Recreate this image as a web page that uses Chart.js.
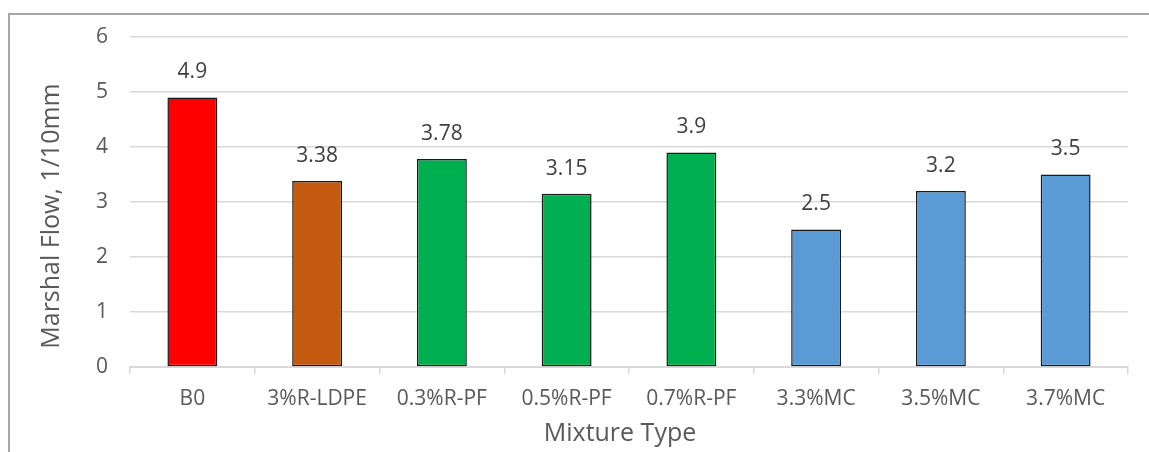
<!DOCTYPE html>
<html>
<head>
<meta charset="utf-8">
<script src="https://cdn.jsdelivr.net/npm/chart.js@4/dist/chart.umd.min.js"></script>
<style>
  html, body { margin: 0; padding: 0; background: #ffffff; overflow: hidden; }
  #wrap { position: relative; width: 1149px; height: 452px; }
  #frame {
    position: absolute; left: 8px; top: 13px; width: 1300px; height: 600px;
    border-left: 2px solid #a6a6a6; border-top: 2px solid #a6a6a6;
    pointer-events: none;
  }
  canvas { position: absolute; left: 0; top: 0; }
</style>
</head>
<body>
<div id="wrap">
  <canvas id="chart" width="1149" height="452"></canvas>
  <div id="frame"></div>
</div>
<script>
// Mixture types along the x axis
const categories = ['B0', '3%R-LDPE', '0.3%R-PF', '0.5%R-PF', '0.7%R-PF', '3.3%MC', '3.5%MC', '3.7%MC'];
// Marshall flow for each mixture (1/10 mm)
const flowValues = [4.9, 3.38, 3.78, 3.15, 3.9, 2.5, 3.2, 3.5];
// Y axis tick values
const yTicks = [0, 1, 2, 3, 4, 5, 6];
// Axis titles
const xTitle = 'Mixture Type';
const yTitle = 'Marshal Flow, 1/10mm';

// Fill colour per mixture group
const barColors = ['#FF0000', '#C55A11', '#00B050', '#00B050', '#00B050', '#5B9BD5', '#5B9BD5', '#5B9BD5'];

const FONT = "'Open Sans', 'Liberation Sans', sans-serif";

// Writes each bar's value above it
const valueLabels = {
  id: 'valueLabels',
  afterDatasetsDraw(chart) {
    const ctx = chart.ctx;
    const meta = chart.getDatasetMeta(0);
    ctx.save();
    ctx.font = '21px ' + FONT;
    ctx.fillStyle = '#404040';
    ctx.textAlign = 'center';
    ctx.textBaseline = 'middle';
    meta.data.forEach((bar, i) => {
      ctx.fillText(String(flowValues[i]), bar.x, bar.y - 25);
    });
    ctx.restore();
  }
};

// Axis titles, centred on the whole chart box rather than the plot area
const axisTitles = {
  id: 'axisTitles',
  afterDraw(chart) {
    const ctx = chart.ctx;
    ctx.save();
    ctx.font = '25px ' + FONT;
    ctx.fillStyle = '#595959';
    ctx.textAlign = 'center';
    ctx.textBaseline = 'middle';
    ctx.fillText(xTitle, 620, 434);
    ctx.translate(52, 216);
    ctx.rotate(-Math.PI / 2);
    ctx.fillText(yTitle, 0, 0);
    ctx.restore();
  }
};

new Chart(document.getElementById('chart'), {
  type: 'bar',
  data: {
    labels: categories,
    datasets: [{
      data: flowValues,
      backgroundColor: barColors,
      borderColor: '#1a1a1a',
      borderWidth: 1.5,
      borderSkipped: false,
      barPercentage: 0.4,
      categoryPercentage: 1.0
    }]
  },
  options: {
    responsive: false,
    devicePixelRatio: 1,
    animation: false,
    layout: { padding: { left: 0, right: 21, top: 37, bottom: 0 } },
    plugins: {
      legend: { display: false },
      tooltip: { enabled: false }
    },
    scales: {
      x: {
        offset: true,
        grid: {
          display: true,
          offset: true,
          drawOnChartArea: false,
          drawTicks: true,
          tickLength: 7,
          color: '#d9d9d9',
          lineWidth: 1.5
        },
        border: { display: true, color: '#d9d9d9', width: 2 },
        ticks: {
          color: '#595959',
          font: { family: FONT, size: 21 },
          padding: 12,
          maxRotation: 0,
          autoSkip: false
        },
        title: { display: false },
        afterFit(scale) { scale.height = 85; }
      },
      y: {
        min: 0,
        max: 6,
        afterBuildTicks(scale) { scale.ticks = yTicks.map(v => ({ value: v })); },
        grid: {
          color: '#d9d9d9',
          lineWidth: 1.5,
          drawTicks: false
        },
        border: { display: false },
        ticks: {
          color: '#595959',
          font: { family: FONT, size: 21 },
          padding: 22
        },
        title: { display: false },
        afterFit(scale) { scale.width = 130; }
      }
    }
  },
  plugins: [valueLabels, axisTitles]
});
</script>
</body>
</html>
